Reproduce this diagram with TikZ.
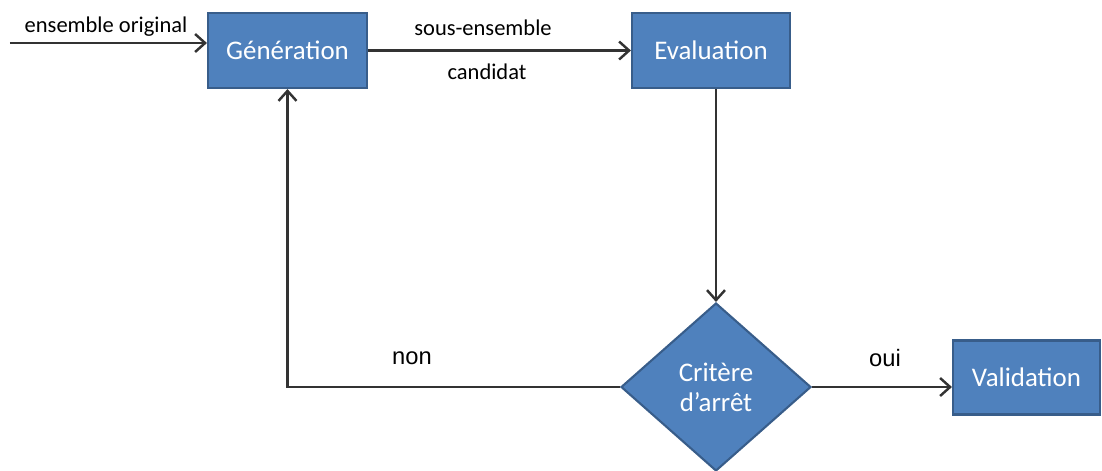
\documentclass[tikz,border=0pt]{standalone}
\usepackage{fontspec}
\setmainfont{Carlito}
\newfontfamily\arialfont{Liberation Sans}
\usetikzlibrary{shapes.geometric,arrows.meta}

\definecolor{boxfill}{HTML}{4F81BD}
\definecolor{boxline}{HTML}{385D8A}

\tikzset{
  stepbox/.style={draw=boxline, line width=1.2pt, fill=boxfill, text=white,
    font=\fontsize{15.3}{17}\selectfont, inner sep=0pt},
  testbox/.style={stepbox, diamond, align=center,
    minimum width=3.8cm, minimum height=3.36cm},
  flow/.style={line width=1.4pt, draw=black!80, ->},
  lbl/.style={font=\fontsize{12.8}{14}\selectfont},
  yesno/.style={font=\arialfont\fontsize{13.5}{15}\selectfont},
  >={Straight Barb[length=2mm, width=3.6mm]}
}

\begin{document}
\begin{tikzpicture}
\useasboundingbox (0,0) rectangle (22.04,-9.4);

% steps
\node[stepbox, minimum width=3.18cm, minimum height=1.5cm] (gen) at (5.75,-1.01) {Génération};
\node[stepbox, minimum width=3.16cm, minimum height=1.5cm] (eval) at (14.22,-1.01) {Evaluation};
\node[testbox] (crit) at (14.32,-7.74) {Critère\\d’arrêt};
\node[stepbox, minimum width=2.94cm, minimum height=1.48cm] (val) at (20.53,-7.55) {Validation};

% input
\coordinate (in) at (0.2,-0.86);
\draw[flow] (in) -- (in -| gen.west);
\node[lbl] (inlbl) at (2.12,-0.54) {ensemble original};

% main loop
\draw[flow] (gen.east) -- (eval.west);
\node[lbl] (sub) at (9.66,-0.56) {sous-ensemble};
\node[lbl] (cand) at (9.74,-1.44) {candidat};
\draw[flow] (eval.south -| crit.north) -- (crit.north);
\draw[flow] (crit.west) -| (gen.south);
\node[yesno] (no) at (8.24,-7.16) {non};

% exit
\draw[flow] (crit.east) -- (crit.east -| val.west);
\node[yesno] (yes) at (17.7,-7.16) {oui};

\end{tikzpicture}
\end{document}
